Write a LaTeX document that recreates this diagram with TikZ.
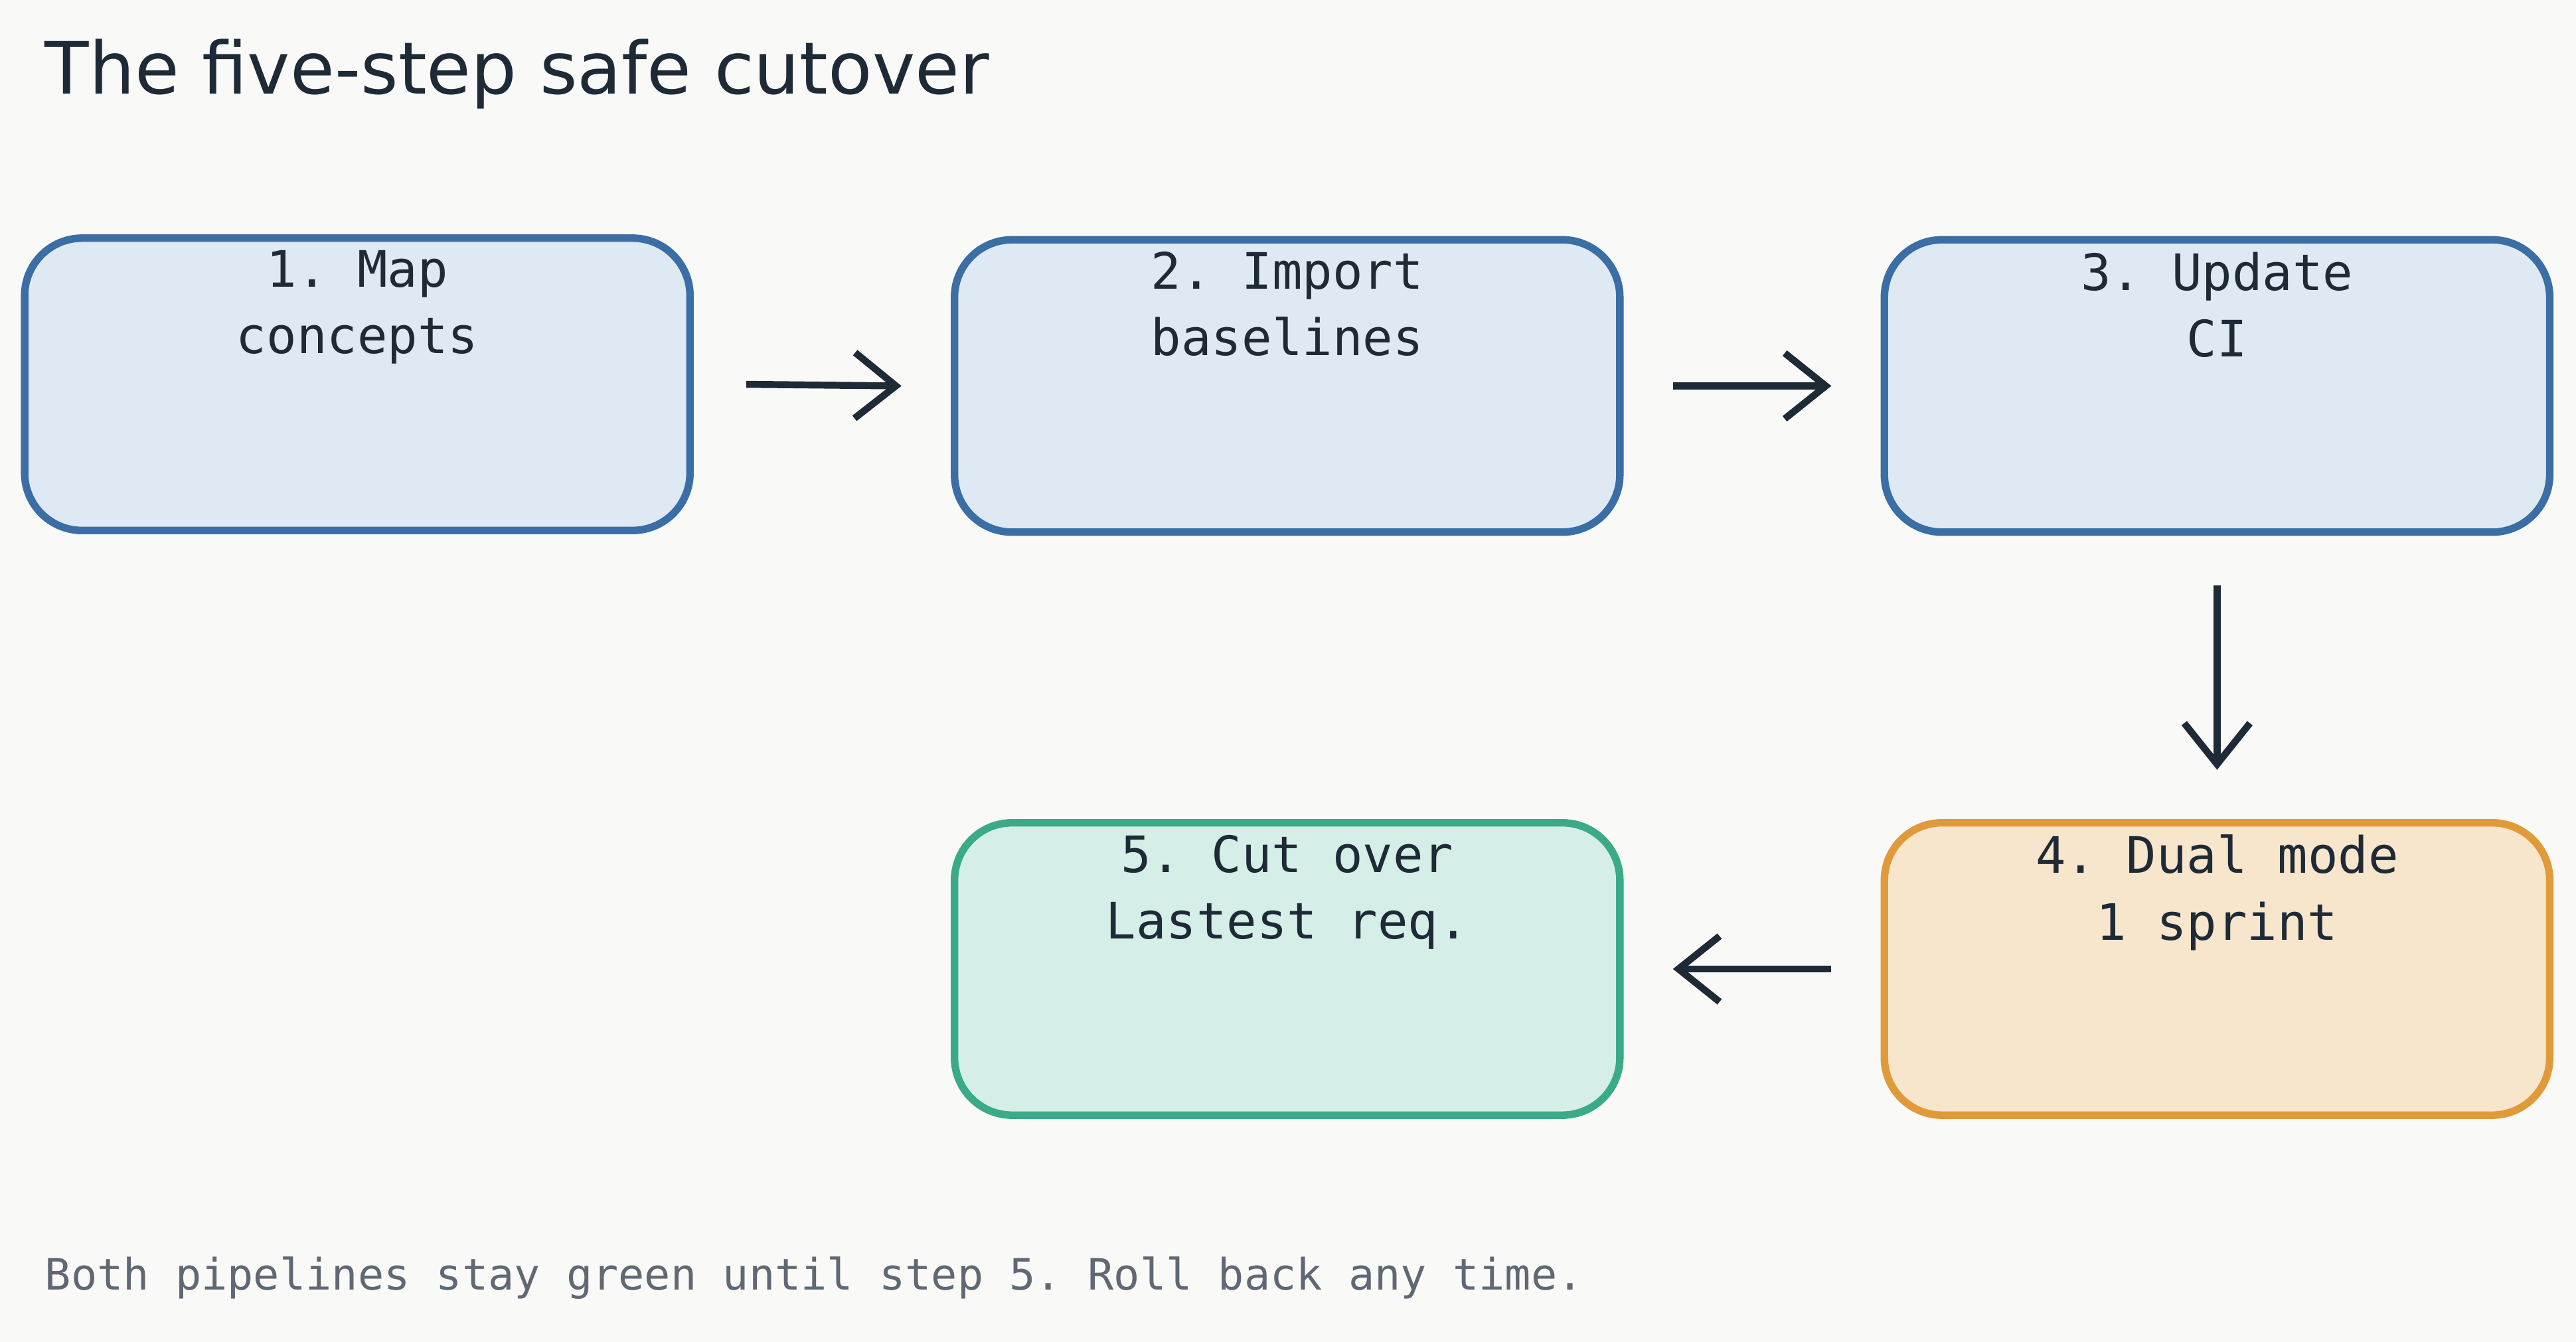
\documentclass[tikz,border=0pt]{standalone}
\usepackage{fontspec}
\setmonofont{DejaVu Sans Mono}
\setsansfont{DejaVu Sans}
\usetikzlibrary{positioning,arrows.meta}
\definecolor{bgcol}{HTML}{F9F9F7}
\definecolor{ink}{HTML}{1E2A36}
\definecolor{bluel}{HTML}{3A6EA5}
\definecolor{bluef}{HTML}{DFE9F3}
\definecolor{orangel}{HTML}{E09A3A}
\definecolor{orangef}{HTML}{F7E5CC}
\definecolor{greenl}{HTML}{3AAA88}
\definecolor{greenf}{HTML}{D5EEE7}
\definecolor{footgray}{HTML}{5F6873}
\tikzset{
  step/.style={draw=#1l, fill=#1f, line width=1.3pt, rounded corners=0.35cm,
    minimum width=4.05cm, minimum height=1.78cm, inner sep=0pt},
  steptext/.style={font=\ttfamily\fontsize{8.7}{11.5}\selectfont, text=ink,
    align=center, anchor=north, inner sep=0pt},
  flow/.style={draw=ink, line width=1.2pt, -{Straight Barb[length=2.5mm,width=4mm]}},
}
\begin{document}
\begin{tikzpicture}
  \fill[bgcol] (0,0) rectangle (15.68,-8.17);
  \useasboundingbox (0,0) rectangle (15.68,-8.17);
  % title and footer
  \node[anchor=west, font=\sffamily\fontsize{12.5}{14}\selectfont, text=ink] (title) at (0.15,-0.45) {The five-step safe cutover};
  \node[anchor=west, font=\ttfamily\fontsize{7.5}{9}\selectfont, text=footgray] (foot) at (0.15,-7.78) {Both pipelines stay green until step 5. Roll back any time.};
  % steps
  \node[step=blue] (map) at (2.175,-2.34) {};
  \node[step=blue] (import) at (7.835,-2.35) {};
  \node[step=blue] (update) at (13.495,-2.35) {};
  \node[step=orange] (dual) at (13.495,-5.9) {};
  \node[step=green] (cut) at (7.835,-5.9) {};
  \node[steptext] at ([yshift=-0.09cm]map.north) {1. Map\\concepts};
  \node[steptext] at ([yshift=-0.09cm]import.north) {2. Import\\baselines};
  \node[steptext] at ([yshift=-0.09cm]update.north) {3. Update\\CI};
  \node[steptext] at ([yshift=-0.09cm]dual.north) {4. Dual mode\\1 sprint};
  \node[steptext] at ([yshift=-0.09cm]cut.north) {5. Cut over\\Lastest req.};
  % connectors
  \draw[flow] ([xshift=0.32cm]map.east) -- ([xshift=-0.3cm]import.west);
  \draw[flow] ([xshift=0.3cm]import.east) -- ([xshift=-0.3cm]update.west);
  \draw[flow] ([yshift=-0.3cm]update.south) -- ([yshift=0.3cm]dual.north);
  \draw[flow] ([xshift=-0.3cm]dual.west) -- ([xshift=0.3cm]cut.east);
\end{tikzpicture}
\end{document}
